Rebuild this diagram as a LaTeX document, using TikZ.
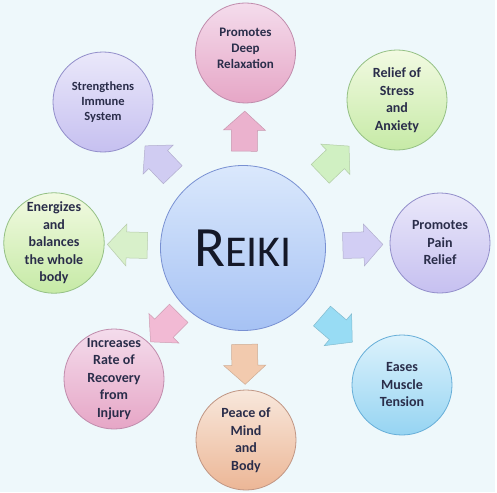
\documentclass[tikz,border=0pt]{standalone}
\usepackage{fontspec}
\setmainfont{Carlito}
\usetikzlibrary{calc}
\definecolor{bg}{HTML}{EEF8FB}
\definecolor{txt}{HTML}{2A2D4A}
\definecolor{reiki}{HTML}{141828}
\definecolor{pinkT}{HTML}{F4DCEC}\definecolor{pinkD}{HTML}{E6A6C6}\definecolor{pinkB}{HTML}{C08CAC}
\definecolor{grnT}{HTML}{F2FAE2}\definecolor{grnD}{HTML}{C6EAA6}\definecolor{grnB}{HTML}{94C084}
\definecolor{lavT}{HTML}{EAE8FA}\definecolor{lavD}{HTML}{C6C0F0}\definecolor{lavB}{HTML}{928ECA}
\definecolor{cyaT}{HTML}{DCF2FC}\definecolor{cyaD}{HTML}{96D4F2}\definecolor{cyaB}{HTML}{66AED8}
\definecolor{orgT}{HTML}{F8E8DC}\definecolor{orgD}{HTML}{ECB696}\definecolor{orgB}{HTML}{C09684}
\definecolor{cenT}{HTML}{DAE8FC}\definecolor{cenD}{HTML}{A6C2F4}\definecolor{cenB}{HTML}{7890D2}
\definecolor{aPink}{HTML}{EBB2CE}\definecolor{aGrn}{HTML}{D0F0C2}\definecolor{aLav}{HTML}{D2CEF4}
\definecolor{aCya}{HTML}{98DCF4}\definecolor{aOrg}{HTML}{F2CAAE}\definecolor{aPink2}{HTML}{F2BAD4}
\definecolor{aGrn2}{HTML}{D8F0CA}\definecolor{aLav2}{HTML}{D0CCF2}
\tikzset{
  sat/.style={circle, minimum size=100pt, inner sep=0pt, align=center, text=txt,
    line width=0.8pt, font=\fontsize{14}{17.5}\selectfont\bfseries},
  pinkc/.style={sat, draw=pinkB, top color=pinkT, bottom color=pinkD},
  grnc/.style={sat, draw=grnB, top color=grnT, bottom color=grnD},
  lavc/.style={sat, draw=lavB, top color=lavT, bottom color=lavD},
  cyac/.style={sat, draw=cyaB, top color=cyaT, bottom color=cyaD},
  orgc/.style={sat, draw=orgB, top color=orgT, bottom color=orgD},
  blockarrow/.pic={\path[pic actions] (-20,-13) -- (1,-13) -- (1,-21) -- (20,0)
      -- (1,21) -- (1,13) -- (-20,13) -- cycle;},
  arr/.style={sloped, allow upside down, line width=0.5pt}
}
\begin{document}
\begin{tikzpicture}[x=1pt,y=-1pt]
\fill[bg] (0,0) rectangle (497,492);
\fill[white] (494.5,0) rectangle (497,492);
\useasboundingbox (0,0) rectangle (497,492);

\node[circle, minimum size=165pt, inner sep=0pt, draw=cenB, line width=0.8pt,
  top color=cenT, bottom color=cenD, text=reiki]
  (c) at (243,248) {\fontsize{57}{57}\selectfont R\fontsize{44}{44}\selectfont EIKI};

\node[pinkc, font=\fontsize{13}{16}\selectfont\bfseries] (t) at (245.5,53)
  {Promotes\\Deep\\Relaxation\\[-6pt]{}};
\node[grnc] (tr) at (397,100) {Relief of\\Stress\\and\\Anxiety};
\node[lavc] (r) at (440,243) {Promotes\\Pain\\Relief};
\node[cyac] (br) at (402,385) {Eases\\Muscle\\Tension};
\node[orgc] (b) at (246,440) {Peace of\\Mind\\and\\Body};
\node[pinkc] (bl) at (114,379) {Increases\\Rate of\\Recovery\\from\\Injury};
\node[grnc] (l) at (54,243) {Energizes\\and\\balances\\the whole\\body};
\node[lavc, font=\fontsize{12.5}{15}\selectfont\bfseries] (tl) at (103,102)
  {Strengthens\\Immune\\System};

\path (c) -- (t)  pic[arr, pos=0.55, fill=aPink, draw=aPink!85!black] {blockarrow};
\path (c) -- (tr) pic[arr, pos=0.55, fill=aGrn, draw=aGrn!85!black] {blockarrow};
\path (c) -- (r)  pic[arr, pos=0.58, fill=aLav, draw=aLav!85!black] {blockarrow};
\path (c) -- (br) pic[arr, pos=0.54, fill=aCya, draw=aCya!85!black] {blockarrow};
\path (c) -- (b)  pic[arr, pos=0.57, fill=aOrg, draw=aOrg!85!black] {blockarrow};
\path (c) -- (bl) pic[arr, pos=0.57, fill=aPink2, draw=aPink2!85!black] {blockarrow};
\path (c) -- (l)  pic[arr, pos=0.59, fill=aGrn2, draw=aGrn2!85!black] {blockarrow};
\path (c) -- (tl) pic[arr, pos=0.56, fill=aLav2, draw=aLav2!85!black] {blockarrow};
\end{tikzpicture}
\end{document}
